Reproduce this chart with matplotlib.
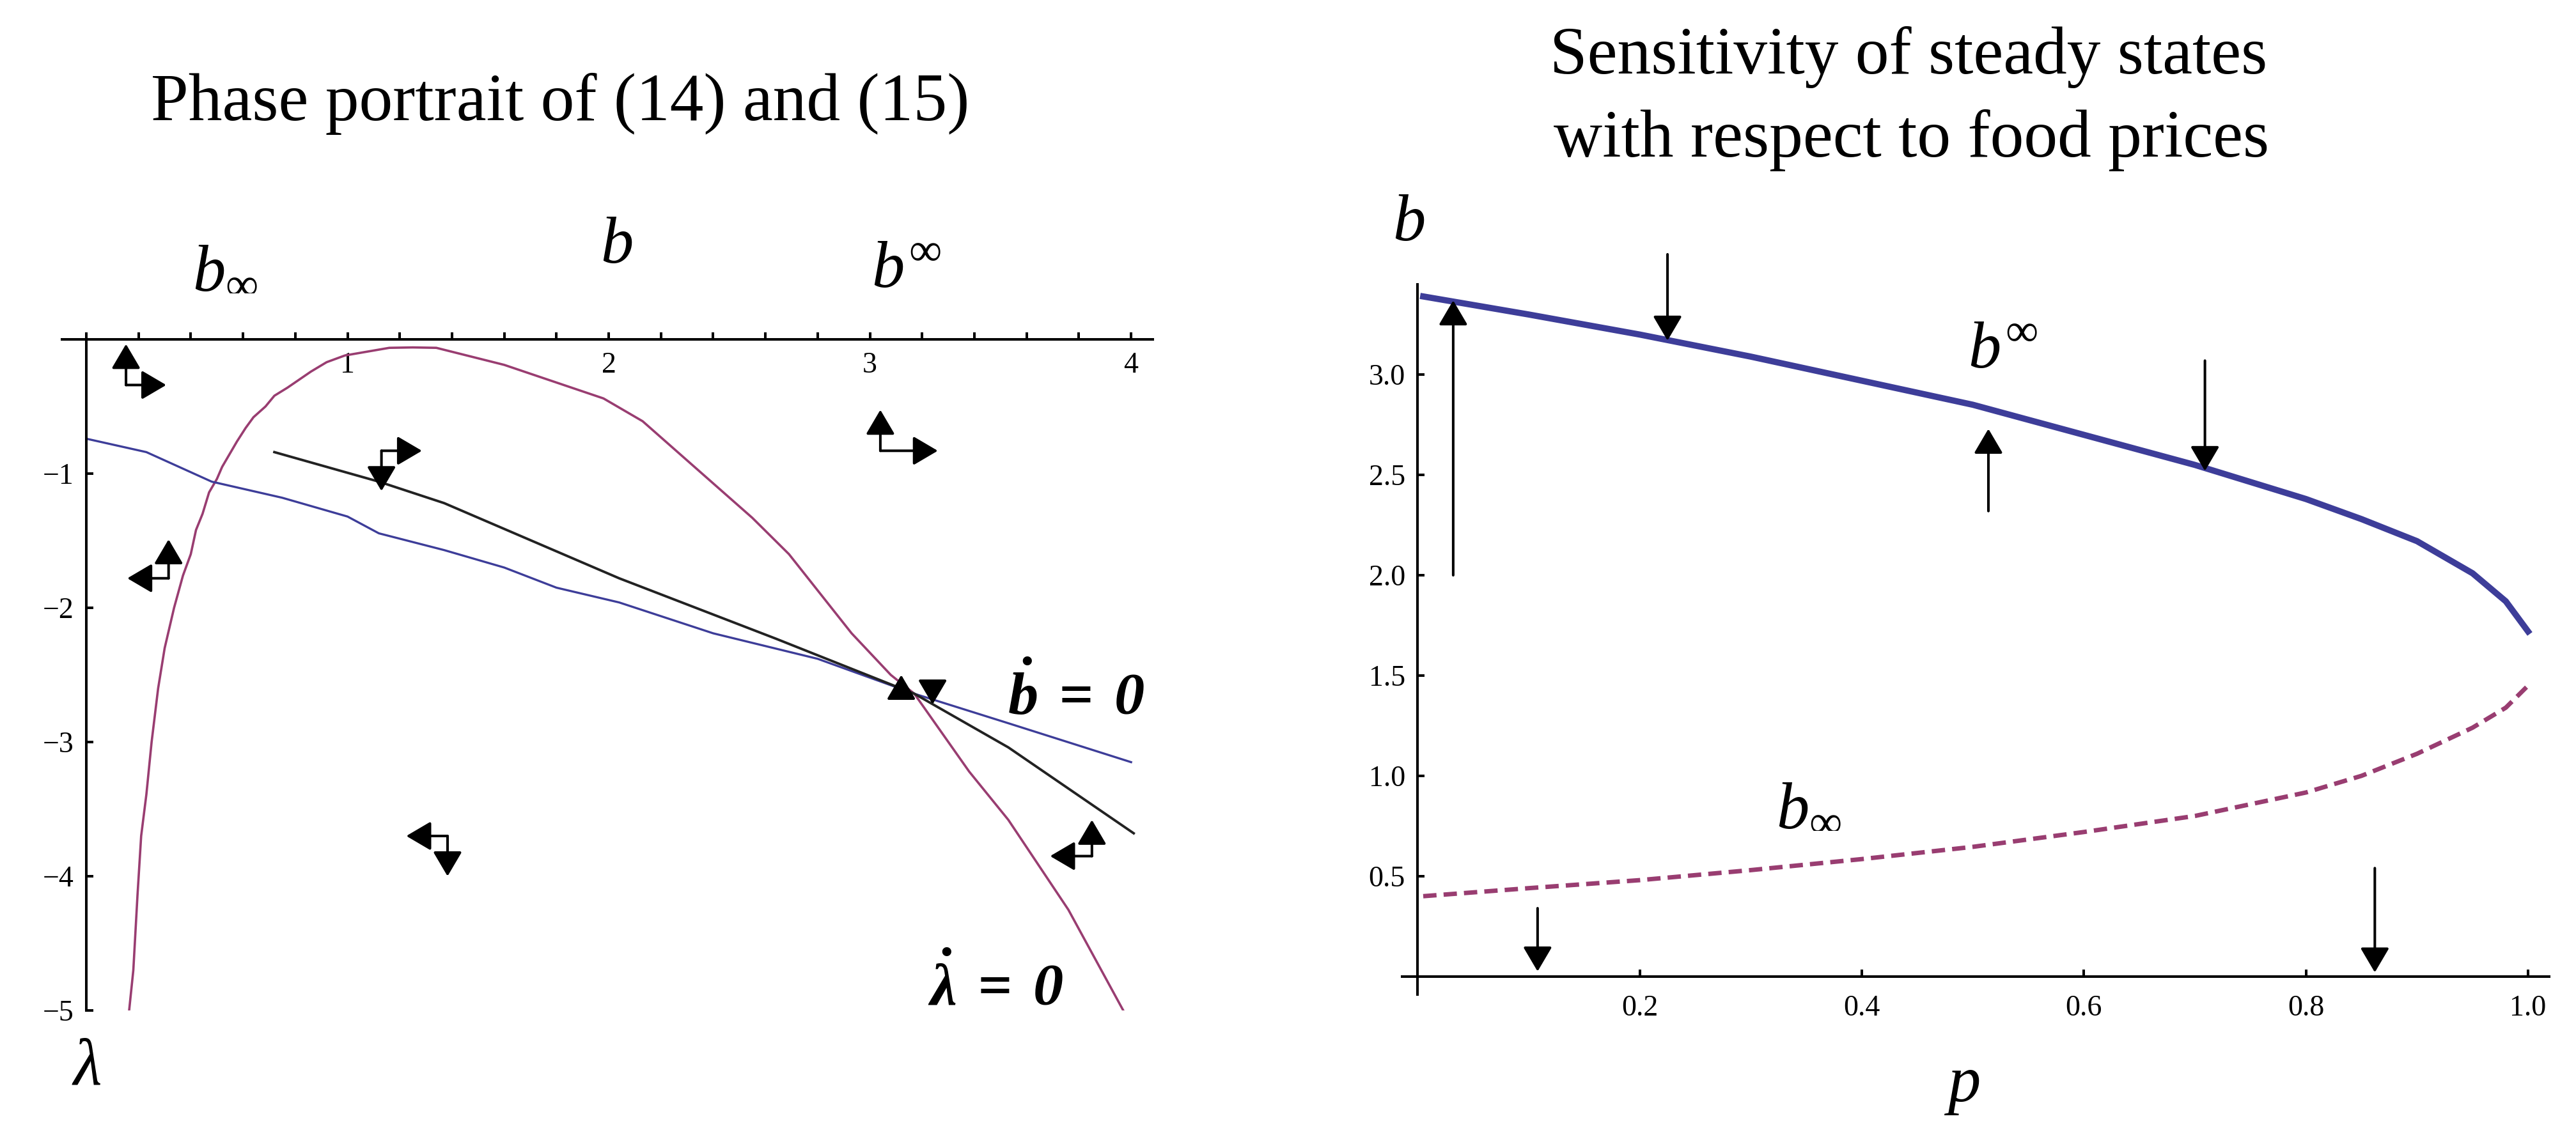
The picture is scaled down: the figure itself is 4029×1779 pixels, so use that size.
import numpy as np
import matplotlib
matplotlib.use('Agg')
import matplotlib.pyplot as plt

plt.rcParams['font.family'] = ['Liberation Serif', 'DejaVu Serif']
plt.rcParams['mathtext.fontset'] = 'custom'
plt.rcParams['mathtext.rm'] = 'Liberation Serif'
plt.rcParams['mathtext.it'] = 'Liberation Serif:italic'
plt.rcParams['mathtext.bf'] = 'Liberation Serif:bold:italic'

BLUE = '#3d3d99'
PURPLE = '#993d71'

# ---- left panel: phase portrait ----
lamdot_b = [0.164, 0.18, 0.196, 0.21, 0.23, 0.25, 0.275, 0.30, 0.336, 0.37, 0.40,
            0.42, 0.445, 0.47, 0.50, 0.52, 0.55, 0.577, 0.61, 0.64, 0.686, 0.72,
            0.77, 0.86, 0.92, 0.99, 1.16, 1.25, 1.34, 1.6, 1.98, 2.13, 2.34, 2.55,
            2.69, 2.93, 3.08, 3.17, 3.38, 3.53, 3.76, 3.97]
lamdot_lam = [-5.0, -4.7, -4.14, -3.7, -3.39, -3.0, -2.6, -2.3, -2.0, -1.76, -1.60,
              -1.42, -1.30, -1.14, -1.04, -0.95, -0.85, -0.76, -0.66, -0.58, -0.50, -0.42,
              -0.36, -0.24, -0.17, -0.12, -0.063, -0.06, -0.063, -0.19, -0.44, -0.61, -0.97, -1.33,
              -1.60, -2.19, -2.50, -2.64, -3.22, -3.58, -4.25, -5.0]

bdot_b = [0.0, 0.23, 0.48, 0.75, 1.0, 1.12, 1.37, 1.6, 1.80, 2.04, 2.40, 2.8, 3.17, 3.53, 4.0]
bdot_lam = [-0.74, -0.84, -1.06, -1.18, -1.32, -1.445, -1.57, -1.70, -1.85, -1.96, -2.19,
            -2.38, -2.64, -2.86, -3.15]

saddle_b = [0.72, 1.12, 1.37, 2.04, 2.64, 3.17, 3.53, 4.01]
saddle_lam = [-0.84, -1.06, -1.22, -1.78, -2.23, -2.64, -3.04, -3.68]

# direction pairs: corner point, tip of vertical arrow, tip of horizontal arrow
corner_b = [0.152, 3.04, 1.13, 0.315, 1.383, 3.85]
corner_lam = [-0.34, -0.83, -0.83, -1.78, -3.70, -3.85]
vtip_lam = [-0.035, -0.525, -1.13, -1.49, -4.0, -3.58]
htip_b = [0.306, 3.26, 1.285, 0.157, 1.225, 3.69]

# small heads at the steady state
head_b = [3.12, 3.24]
head_from = [-2.66, -2.55]
head_to = [-2.50, -2.72]

# ---- right panel: sensitivity ----
p = [0.005, 0.1, 0.2, 0.3, 0.4, 0.5, 0.6, 0.7, 0.8, 0.85, 0.9, 0.95, 0.98, 1.0]
b_upper = [3.39, 3.30, 3.20, 3.09, 2.97, 2.85, 2.70, 2.55, 2.38, 2.28, 2.17, 2.01, 1.87, 1.72]
b_lower = [0.40, 0.44, 0.48, 0.53, 0.585, 0.646, 0.72, 0.80, 0.917, 1.0, 1.11, 1.24, 1.34, 1.45]

arrow_p = [0.032, 0.225, 0.514, 0.709, 0.108, 0.862]
arrow_from = [2.0, 3.60, 2.32, 3.07, 0.34, 0.54]
arrow_to = [3.37, 3.17, 2.73, 2.52, 0.025, 0.02]

W, H = 4030, 1779
fig = plt.figure(figsize=(W / 100, H / 100), dpi=100)


def box(x0, y0, x1, y1):
    return [x0 / W, 1 - y1 / H, (x1 - x0) / W, (y1 - y0) / H]


def arrow(ax, tail, tip):
    ax.annotate('', xy=tip, xytext=tail, annotation_clip=False,
                arrowprops=dict(arrowstyle='-|>,head_length=0.34,head_width=0.2',
                                mutation_scale=70, lw=2.9, color='k',
                                shrinkA=0, shrinkB=0))


def style_axes(ax):
    for s in ['top', 'right']:
        ax.spines[s].set_visible(False)
    ax.spines['left'].set_position(('data', 0))
    ax.spines['bottom'].set_position(('data', 0))
    for s in ['left', 'bottom']:
        ax.spines[s].set_linewidth(2.9)
    ax.tick_params(which='both', direction='in', length=8, width=2.9,
                   labelsize=33, pad=14)
    ax.patch.set_visible(False)


# left
ax1 = fig.add_axes(box(97, 531, 1803, 1581))
ax1.set_xlim(-0.093, 4.083)
ax1.set_ylim(-5, 0)
style_axes(ax1)
ax1.set_xticks([1, 2, 3, 4])
ax1.set_xticks(np.arange(0, 4.01, 0.2), minor=True)
ax1.set_yticks([-5, -4, -3, -2, -1])

ax1.plot(lamdot_b, lamdot_lam, color=PURPLE, lw=2.6)
ax1.plot(bdot_b, bdot_lam, color=BLUE, lw=2.4)
ax1.plot(saddle_b, saddle_lam, color='#222222', lw=2.8)

for cb, cl, vt, ht in zip(corner_b, corner_lam, vtip_lam, htip_b):
    arrow(ax1, (cb, cl), (cb, vt))
    arrow(ax1, (cb, cl), (ht, cl))
for hb, hf, ht in zip(head_b, head_from, head_to):
    arrow(ax1, (hb, hf), (hb, ht))

lab = dict(ha='center', va='center', fontsize=74, clip_on=False)
ax1.text(0.53, 0.51, r'$b_\infty$', **lab)
ax1.text(2.03, 0.69, r'$b$', **lab)
ax1.text(3.14, 0.51, r'$b^\infty$', **lab)
ax1.text(0.0, -5.43, r'$\lambda$', **lab)
ax1.text(3.79, -2.66, r'$\mathbf{\dot{b}}\;\mathbf{=}\;\mathbf{0}$',
         ha='center', va='center', fontsize=68)
ax1.text(3.48, -4.83, r'$\mathbf{\dot{\lambda}}\;\mathbf{=}\;\mathbf{0}$',
         ha='center', va='center', fontsize=68)

# right
ax2 = fig.add_axes(box(2193, 445, 3987, 1556))
ax2.set_xlim(-0.014, 1.019)
ax2.set_ylim(-0.09, 3.45)
style_axes(ax2)
ax2.set_xticks([0.2, 0.4, 0.6, 0.8, 1.0])
ax2.set_yticks([0.5, 1.0, 1.5, 2.0, 2.5, 3.0])
ax2.tick_params(axis='x', pad=21)

ax2.plot(p, b_upper, color=BLUE, lw=7)
ax2.plot(p, b_lower, color=PURPLE, lw=5, dashes=(3, 1.6))

for ap, af, at in zip(arrow_p, arrow_from, arrow_to):
    arrow(ax2, (ap, af), (ap, at))

ax2.text(-0.008, 3.75, r'$b$', **lab)
ax2.text(0.49, -0.55, r'$p$', **lab)
ax2.text(0.527, 3.115, r'$b^\infty$', **lab)
ax2.text(0.352, 0.84, r'$b_\infty$', **lab)

# titles
fig.text(876 / W, 1 - 188 / H, 'Phase portrait of (14) and (15)',
         ha='center', va='baseline', fontsize=76)
fig.text(2985 / W, 1 - 115 / H, 'Sensitivity of steady states',
         ha='center', va='baseline', fontsize=76)
fig.text(2990 / W, 1 - 245 / H, 'with respect to food prices',
         ha='center', va='baseline', fontsize=76)

fig.savefig('out.png', dpi=100)
